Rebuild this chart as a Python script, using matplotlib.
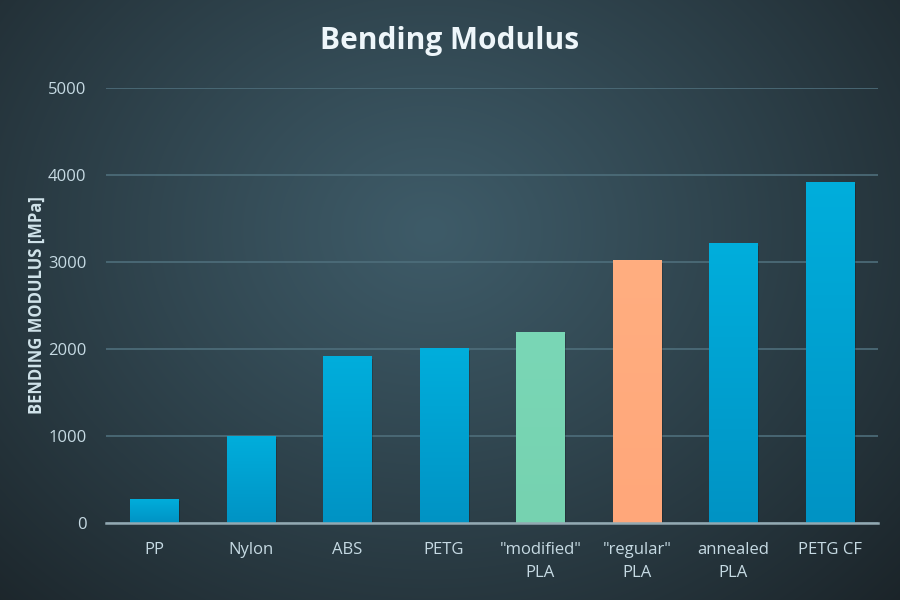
import numpy as np
import matplotlib
matplotlib.use("Agg")
import matplotlib.pyplot as plt
from matplotlib.colors import LinearSegmentedColormap, to_rgb

categories = ['PP', 'Nylon', 'ABS', 'PETG', '"modified"\nPLA', '"regular"\nPLA', 'annealed\nPLA', 'PETG CF']
values = [280, 1000, 1920, 2010, 2200, 3020, 3215, 3925]
bar_colors = [('#00aedc', '#0093c4')] * 4 + [('#7ad7b6', '#76d2b0'), ('#ffae80', '#ffa77a')] + [('#00aedc', '#0093c4')] * 2
yticks = [0, 1000, 2000, 3000, 4000, 5000]

fig = plt.figure(figsize=(9, 6), dpi=100)

# background radial gradient
bg = fig.add_axes([0, 0, 1, 1], zorder=-10)
bg.set_axis_off()
yy, xx = np.mgrid[0:600, 0:900]
cx, cy = 430, 230
d = np.sqrt(((xx - cx) / 650.0) ** 2 + ((yy - cy) / 540.0) ** 2)
d = np.clip(d, 0, 1) ** 1.1
c0 = np.array(to_rgb('#3e5b68'))
c1 = np.array(to_rgb('#1b2429'))
img = c0[None, None, :] * (1 - d[..., None]) + c1[None, None, :] * d[..., None]
bg.imshow(img, extent=[0, 1, 0, 1], aspect='auto', origin='upper')
bg.set_xlim(0, 1)
bg.set_ylim(0, 1)

ax = fig.add_axes([106 / 900, 1 - 523 / 600, (878 - 106) / 900, (523 - 88) / 600])
ax.set_facecolor('none')
x = np.arange(len(categories))
bars = ax.bar(x, values, width=0.5, color='none', zorder=3)
for b, (ct, cb) in zip(bars, bar_colors):
    x0, y0 = b.get_x(), b.get_y()
    w, h = b.get_width(), b.get_height()
    # shadow
    ax.bar(x0 + w / 2 + 0.02, h, width=w, bottom=-30, color='black', alpha=0.18, zorder=2)
    cmap = LinearSegmentedColormap.from_list('g', [cb, ct])
    grad = np.linspace(0, 1, 256).reshape(-1, 1)
    im = ax.imshow(grad, extent=[x0, x0 + w, y0, y0 + h], origin='lower', aspect='auto', cmap=cmap, zorder=3)
    im.set_clip_path(b)

ax.set_xlim(-0.5, len(categories) - 0.5)
ax.set_ylim(0, 5000)
ax.set_yticks(yticks)
ax.set_xticks(x)
ax.set_xticklabels(categories, fontsize=12, color='#c6dae3', family='Open Sans', linespacing=1.55, va='top')
ax.set_yticklabels([str(v) for v in yticks], fontsize=12, color='#c6dae3', family='Open Sans')
ax.tick_params(axis='both', length=0)
ax.tick_params(axis='y', pad=14)
ax.tick_params(axis='x', pad=14)
ax.grid(axis='y', color='#4e6e7b', linewidth=1.2, zorder=0)
ax.set_axisbelow(True)
for s in ['top', 'right', 'left']:
    ax.spines[s].set_visible(False)
ax.spines['bottom'].set_color('#93a9b2')
ax.spines['bottom'].set_linewidth(1.8)
ax.spines['bottom'].set_zorder(4)

ax.set_ylabel('BENDING MODULUS [MPa]', fontsize=12, fontweight='bold', color='#d0e3ea', family='Open Sans')
ax.yaxis.set_label_coords(-0.078, 0.5)

fig.text(0.5, 1 - 41 / 600, 'Bending Modulus', ha='center', va='center',
         fontsize=21.5, fontweight='bold', color='#eef6fa', family='Open Sans')

fig.savefig('out.png', dpi=100)
